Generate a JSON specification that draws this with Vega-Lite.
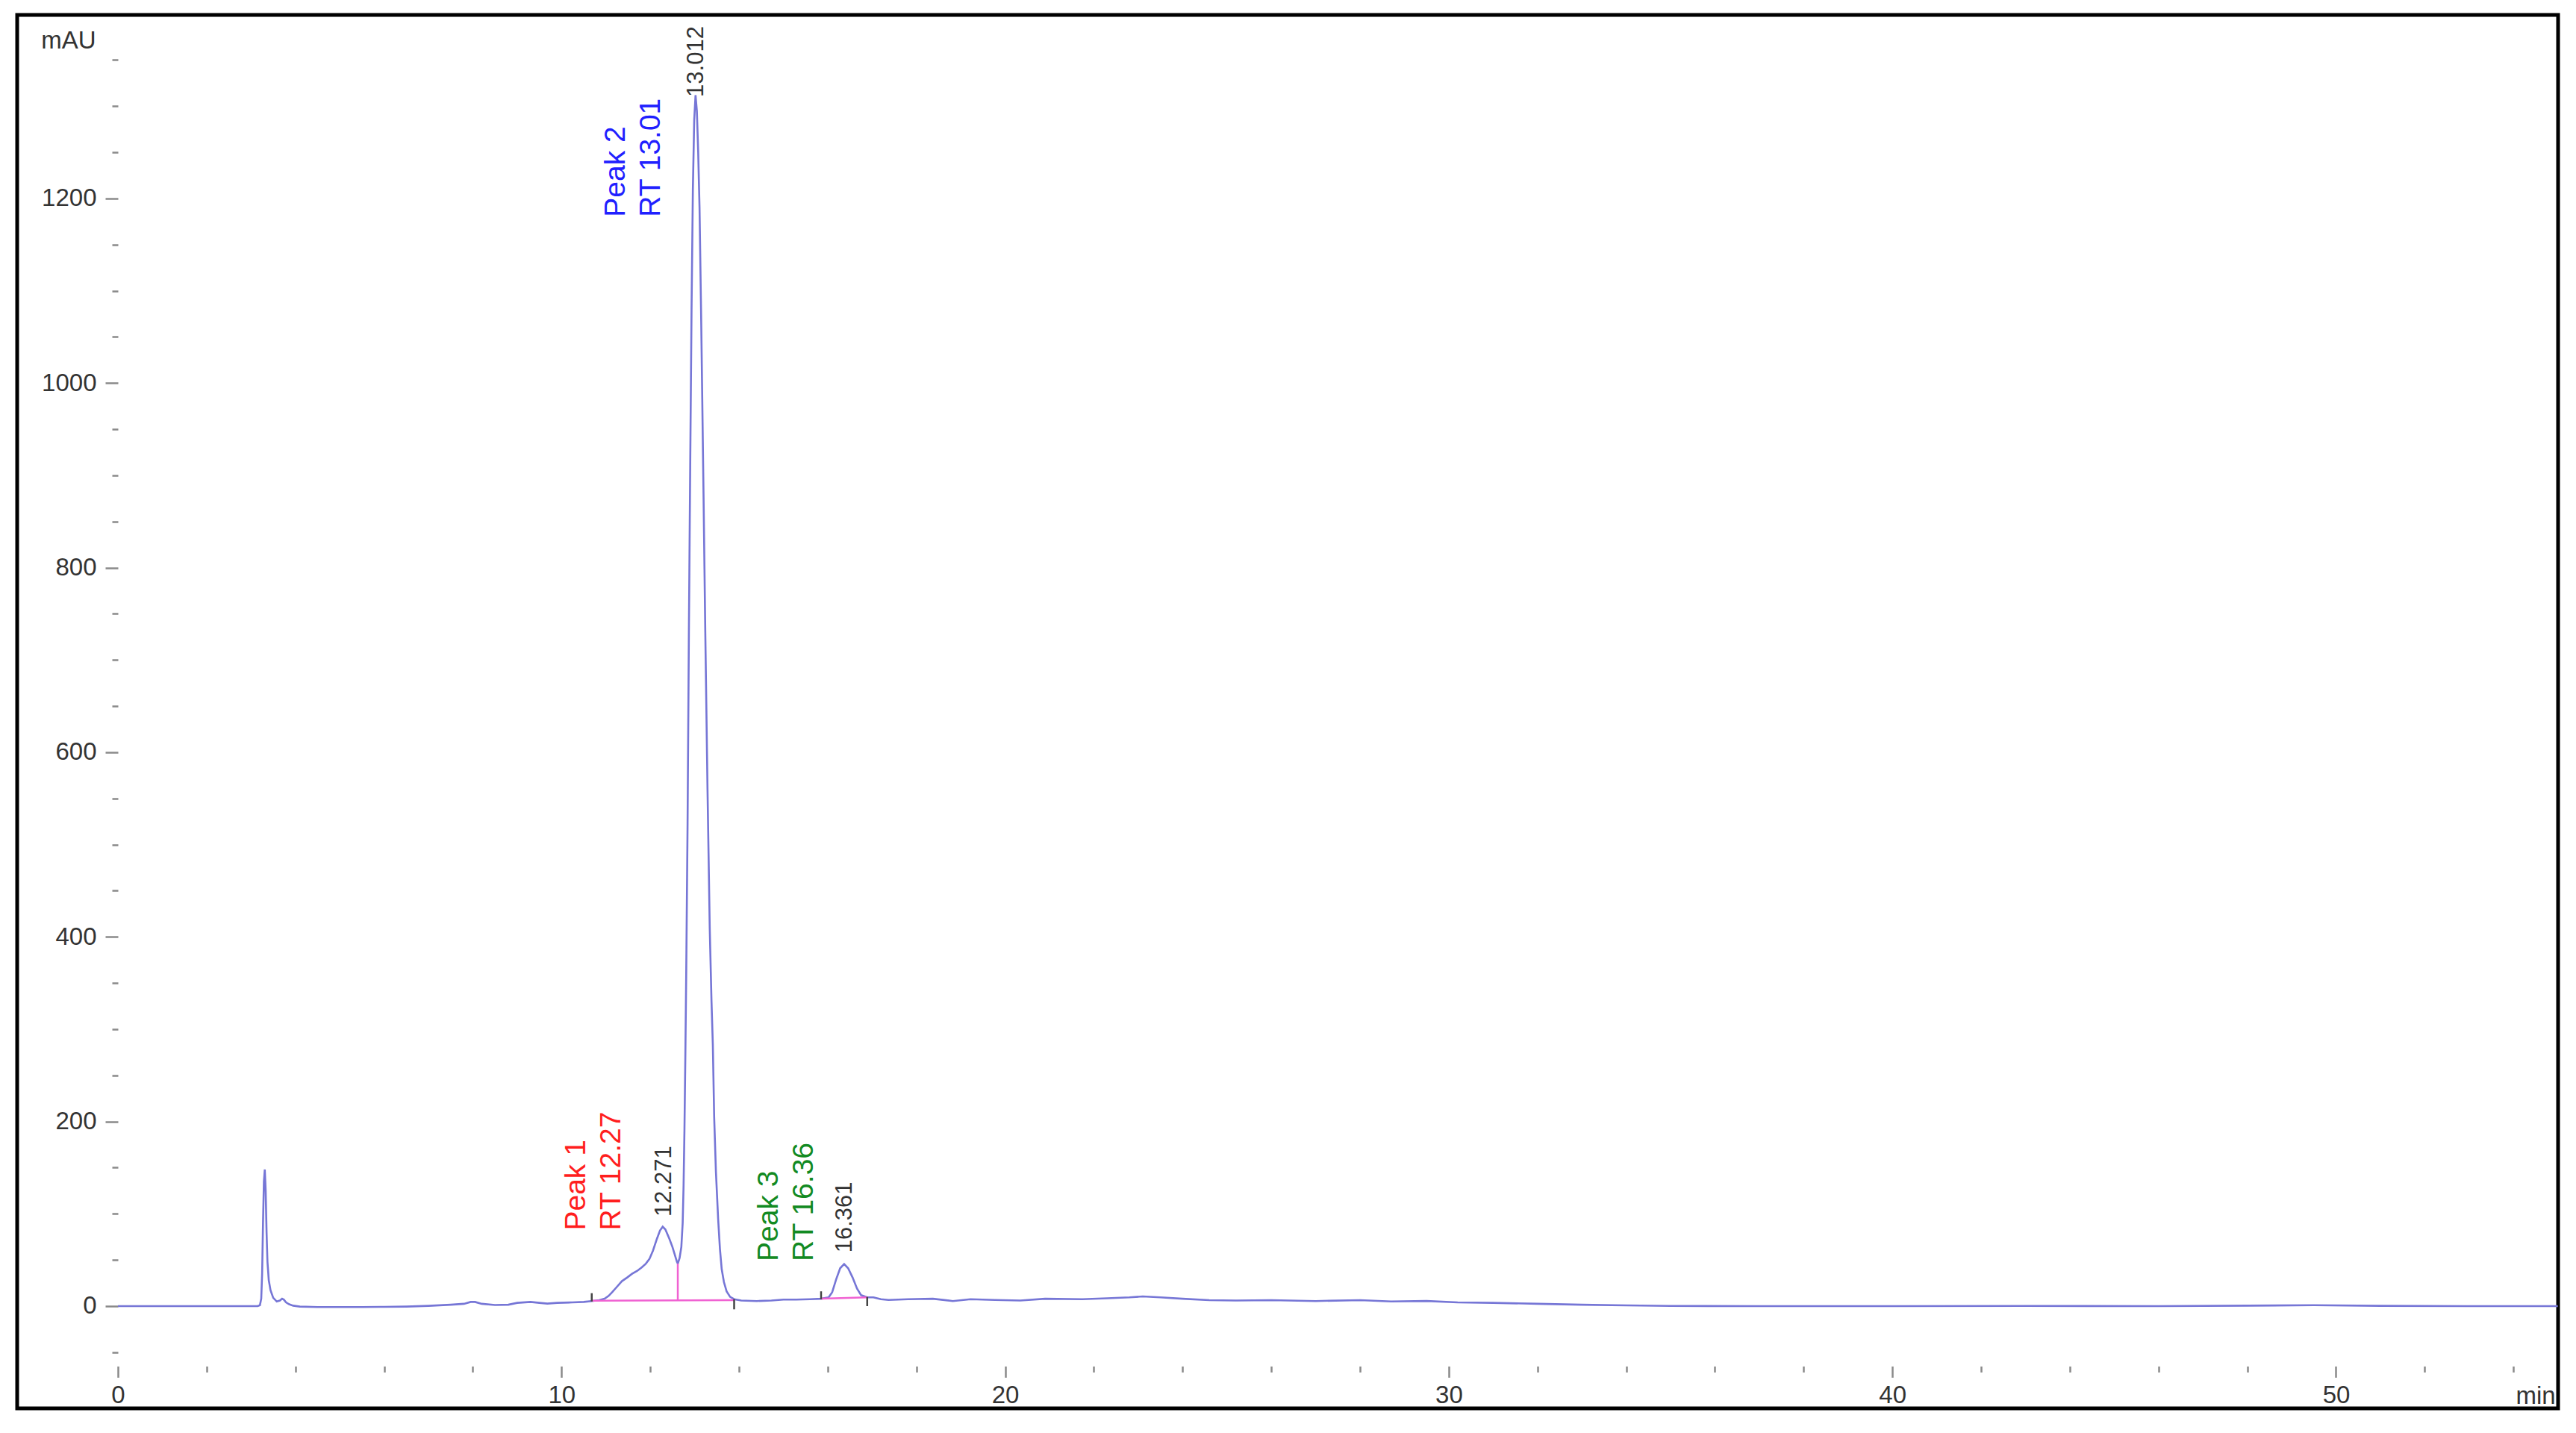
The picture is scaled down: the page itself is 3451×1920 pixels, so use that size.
{
  "$schema": "https://vega.github.io/schema/vega-lite/v6.json",
  "width": 3404,
  "height": 1867,
  "autosize": {"type": "none"},
  "padding": {"left": 23, "top": 20, "right": 24, "bottom": 33},
  "background": "white",
  "config": {
    "view": {"stroke": "#000000", "strokeWidth": 5},
    "font": "Liberation Sans"
  },
  "datasets": {
    "trace": [
      {"t":0,"a":0},{"t":1,"a":0},{"t":2,"a":0},{"t":2.8,"a":0},{"t":3.15,"a":0},{"t":3.2,"a":1},{"t":3.23,"a":8},{"t":3.25,"a":35},{"t":3.27,"a":90},{"t":3.29,"a":135},{"t":3.31,"a":148},{"t":3.33,"a":125},{"t":3.35,"a":80},{"t":3.37,"a":48},{"t":3.4,"a":28},{"t":3.44,"a":17},{"t":3.5,"a":9},{"t":3.58,"a":5},{"t":3.65,"a":6},{"t":3.7,"a":8},{"t":3.74,"a":7},{"t":3.79,"a":4},{"t":3.86,"a":2},{"t":3.95,"a":0.5},{"t":4.1,"a":-0.5},{"t":4.5,"a":-1},{"t":5,"a":-1},{"t":5.5,"a":-1},{"t":6,"a":-0.8},{"t":6.5,"a":-0.5},{"t":7,"a":0.3},{"t":7.5,"a":1.5},{"t":7.8,"a":2.5},{"t":7.95,"a":4.5},{"t":8.05,"a":4.5},{"t":8.2,"a":2.5},{"t":8.5,"a":1.2},{"t":8.8,"a":1.5},{"t":9,"a":3.5},{"t":9.3,"a":4.5},{"t":9.5,"a":3.5},{"t":9.68,"a":2.7},{"t":9.9,"a":3.5},{"t":10.24,"a":4},{"t":10.5,"a":4.5},{"t":10.68,"a":5.5},{"t":10.85,"a":6.5},{"t":10.97,"a":8},{"t":11.06,"a":11},{"t":11.14,"a":15},{"t":11.25,"a":21},{"t":11.36,"a":27},{"t":11.48,"a":31},{"t":11.59,"a":35},{"t":11.7,"a":38},{"t":11.81,"a":42},{"t":11.9,"a":46},{"t":11.98,"a":51},{"t":12.06,"a":60},{"t":12.15,"a":73},{"t":12.22,"a":82},{"t":12.28,"a":86},{"t":12.34,"a":83},{"t":12.43,"a":73},{"t":12.5,"a":64},{"t":12.55,"a":56},{"t":12.6,"a":48},{"t":12.62,"a":46},{"t":12.66,"a":52},{"t":12.7,"a":64},{"t":12.73,"a":90},{"t":12.75,"a":130},{"t":12.77,"a":190},{"t":12.79,"a":270},{"t":12.81,"a":360},{"t":12.84,"a":520},{"t":12.87,"a":730},{"t":12.9,"a":910},{"t":12.93,"a":1080},{"t":12.96,"a":1210},{"t":12.99,"a":1285},{"t":13.02,"a":1312},{"t":13.05,"a":1295},{"t":13.08,"a":1250},{"t":13.11,"a":1190},{"t":13.15,"a":1060},{"t":13.2,"a":880},{"t":13.24,"a":730},{"t":13.29,"a":560},{"t":13.34,"a":410},{"t":13.38,"a":330},{"t":13.41,"a":283},{"t":13.44,"a":205},{"t":13.48,"a":145},{"t":13.53,"a":94},{"t":13.57,"a":62},{"t":13.61,"a":40},{"t":13.66,"a":26},{"t":13.72,"a":16},{"t":13.8,"a":10},{"t":13.89,"a":7.5},{"t":14.05,"a":6},{"t":14.4,"a":5.5},{"t":14.73,"a":6},{"t":15,"a":7},{"t":15.29,"a":7},{"t":15.6,"a":7.5},{"t":15.85,"a":8},{"t":16.02,"a":9.5},{"t":16.1,"a":15},{"t":16.19,"a":29},{"t":16.28,"a":41},{"t":16.37,"a":45.5},{"t":16.46,"a":41},{"t":16.56,"a":31},{"t":16.66,"a":19},{"t":16.75,"a":12},{"t":16.89,"a":9.5},{"t":17.03,"a":9.5},{"t":17.2,"a":7.5},{"t":17.37,"a":6.7},{"t":17.81,"a":7.5},{"t":18.37,"a":8},{"t":18.82,"a":5.5},{"t":19.22,"a":7.5},{"t":19.77,"a":6.7},{"t":20.34,"a":6},{"t":20.9,"a":8},{"t":21.74,"a":7.5},{"t":22.3,"a":8.5},{"t":22.8,"a":9.5},{"t":23.1,"a":10.5},{"t":23.5,"a":9.5},{"t":24,"a":8},{"t":24.6,"a":6.5},{"t":25.2,"a":6},{"t":26,"a":6.5},{"t":27,"a":5.5},{"t":28,"a":6.5},{"t":28.7,"a":5},{"t":29.5,"a":5.5},{"t":30.2,"a":4},{"t":31,"a":3.5},{"t":32,"a":2.5},{"t":33,"a":1.5},{"t":34,"a":0.8},{"t":35,"a":0.2},{"t":37,"a":0},{"t":40,"a":0},{"t":43,"a":0.2},{"t":46,"a":0},{"t":48,"a":0.5},{"t":49.5,"a":1},{"t":51,"a":0.3},{"t":53,"a":0},{"t":55,"a":0}
    ],
    "baselines": [
      {"seg":"p12","t":10.68,"a":5.8},{"seg":"p12","t":13.89,"a":6.5},
      {"seg":"p3","t":15.85,"a":8},{"seg":"p3","t":16.89,"a":9.5}
    ],
    "drops": [
      {"t":12.62,"lo":6.2,"hi":46}
    ],
    "markers": [
      {"t":10.68,"lo":5,"hi":14},
      {"t":13.89,"lo":-3.5,"hi":7.5},
      {"t":15.85,"lo":7.5,"hi":16},
      {"t":16.89,"lo":0,"hi":10}
    ],
    "peakLabels": [
      {"t":10.33,"a":82,"label":"Peak 1\nRT 12.27","peak":"Peak 1"},
      {"t":11.22,"a":1180,"label":"Peak 2\nRT 13.01","peak":"Peak 2"},
      {"t":14.67,"a":48.5,"label":"Peak 3\nRT 16.36","peak":"Peak 3"}
    ],
    "rtLabels": [
      {"t":12.32,"a":97,"label":"12.271"},
      {"t":13.04,"a":1310,"label":"13.012"},
      {"t":16.39,"a":58,"label":"16.361"}
    ]
  },
  "layer": [
    {
      "data": {"name": "trace"},
      "mark": {"type": "line", "color": "#7676d6", "strokeWidth": 2.6},
      "encoding": {
        "x": {
          "field": "t", "type": "quantitative",
          "scale": {"domain": [-2.272, 55.006], "nice": false, "zero": false},
          "axis": {
            "orient": "bottom", "offset": -56.6, "format": "d",
            "title": "min", "titleAngle": 0, "titleAlign": "left", "titleBaseline": "middle",
            "titleX": 3347, "titleY": 40, "titleFont": "Liberation Sans", "titleFontSize": 33,
            "titleFontWeight": "normal", "titleColor": "#333333",
            "values": [0,2,4,6,8,10,12,14,16,18,20,22,24,26,28,30,32,34,36,38,40,42,44,46,48,50,52,54],
            "domain": false, "grid": false,
            "tickSize": {"condition": {"test": "datum.value % 10 === 0", "value": 15}, "value": 8},
            "tickColor": "#8a8a8a", "tickWidth": 2.5,
            "labelExpr": "datum.value % 10 === 0 ? datum.label : ''",
            "labelFont": "Liberation Sans", "labelFontSize": 33, "labelColor": "#333333",
            "labelPadding": 8, "labelFlush": false, "labelOverlap": false
          }
        },
        "y": {
          "field": "a", "type": "quantitative",
          "scale": {"domain": [-110.8, 1398.9], "nice": false, "zero": false},
          "axis": {
            "orient": "left", "offset": -135, "format": "d",
            "title": "mAU", "titleAngle": 0, "titleAlign": "right", "titleBaseline": "middle",
            "titleX": -30, "titleY": 34, "titleFont": "Liberation Sans", "titleFontSize": 33,
            "titleFontWeight": "normal", "titleColor": "#333333",
            "values": [-50,0,50,100,150,200,250,300,350,400,450,500,550,600,650,700,750,800,850,900,950,1000,1050,1100,1150,1200,1250,1300,1350],
            "domain": false, "grid": false,
            "tickSize": {"condition": {"test": "datum.value % 200 === 0", "value": 17}, "value": 8},
            "tickColor": "#8a8a8a", "tickWidth": 2.5,
            "labelExpr": "datum.value % 200 === 0 ? datum.label : ''",
            "labelFont": "Liberation Sans", "labelFontSize": 33, "labelColor": "#333333",
            "labelPadding": 12, "labelFlush": false, "labelOverlap": false
          }
        }
      }
    },
    {
      "data": {"name": "baselines"},
      "mark": {"type": "line", "color": "#f062d2", "strokeWidth": 2.5},
      "encoding": {
        "x": {"field": "t", "type": "quantitative", "scale": {"domain": [-2.272, 55.006], "nice": false, "zero": false}},
        "y": {"field": "a", "type": "quantitative", "scale": {"domain": [-110.8, 1398.9], "nice": false, "zero": false}},
        "detail": {"field": "seg", "type": "nominal"}
      }
    },
    {
      "data": {"name": "drops"},
      "mark": {"type": "rule", "color": "#f062d2", "strokeWidth": 2.5},
      "encoding": {
        "x": {"field": "t", "type": "quantitative", "scale": {"domain": [-2.272, 55.006], "nice": false, "zero": false}},
        "y": {"field": "lo", "type": "quantitative", "scale": {"domain": [-110.8, 1398.9], "nice": false, "zero": false}},
        "y2": {"field": "hi"}
      }
    },
    {
      "data": {"name": "markers"},
      "mark": {"type": "rule", "color": "#444444", "strokeWidth": 2.5},
      "encoding": {
        "x": {"field": "t", "type": "quantitative", "scale": {"domain": [-2.272, 55.006], "nice": false, "zero": false}},
        "y": {"field": "lo", "type": "quantitative", "scale": {"domain": [-110.8, 1398.9], "nice": false, "zero": false}},
        "y2": {"field": "hi"}
      }
    },
    {
      "data": {"name": "peakLabels"},
      "mark": {"type": "text", "angle": 270, "align": "left", "baseline": "middle", "fontSize": 39, "lineHeight": 47, "lineBreak": "\n", "font": "Liberation Sans"},
      "encoding": {
        "x": {"field": "t", "type": "quantitative", "scale": {"domain": [-2.272, 55.006], "nice": false, "zero": false}},
        "y": {"field": "a", "type": "quantitative", "scale": {"domain": [-110.8, 1398.9], "nice": false, "zero": false}},
        "text": {"field": "label", "type": "nominal"},
        "color": {"field": "peak", "type": "nominal", "legend": null,
          "scale": {"domain": ["Peak 1", "Peak 2", "Peak 3"], "range": ["#ff1e1e", "#2020ff", "#128a22"]}}
      }
    },
    {
      "data": {"name": "rtLabels"},
      "mark": {"type": "text", "angle": 270, "align": "left", "baseline": "middle", "fontSize": 31, "color": "#333333", "font": "Liberation Sans"},
      "encoding": {
        "x": {"field": "t", "type": "quantitative", "scale": {"domain": [-2.272, 55.006], "nice": false, "zero": false}},
        "y": {"field": "a", "type": "quantitative", "scale": {"domain": [-110.8, 1398.9], "nice": false, "zero": false}},
        "text": {"field": "label", "type": "nominal"}
      }
    },
    {
      "mark": {"type": "rule", "color": "#8a8a8a", "strokeWidth": 3},
      "encoding": {
        "x": {"datum": 0, "type": "quantitative"},
        "y": {"datum": -65, "type": "quantitative"},
        "y2": {"datum": 1388}
      }
    },
    {
      "mark": {"type": "rule", "color": "#8a8a8a", "strokeWidth": 3},
      "encoding": {
        "x": {"datum": 0, "type": "quantitative"},
        "x2": {"datum": 54.95},
        "y": {"datum": -65, "type": "quantitative"}
      }
    }
  ]
}
